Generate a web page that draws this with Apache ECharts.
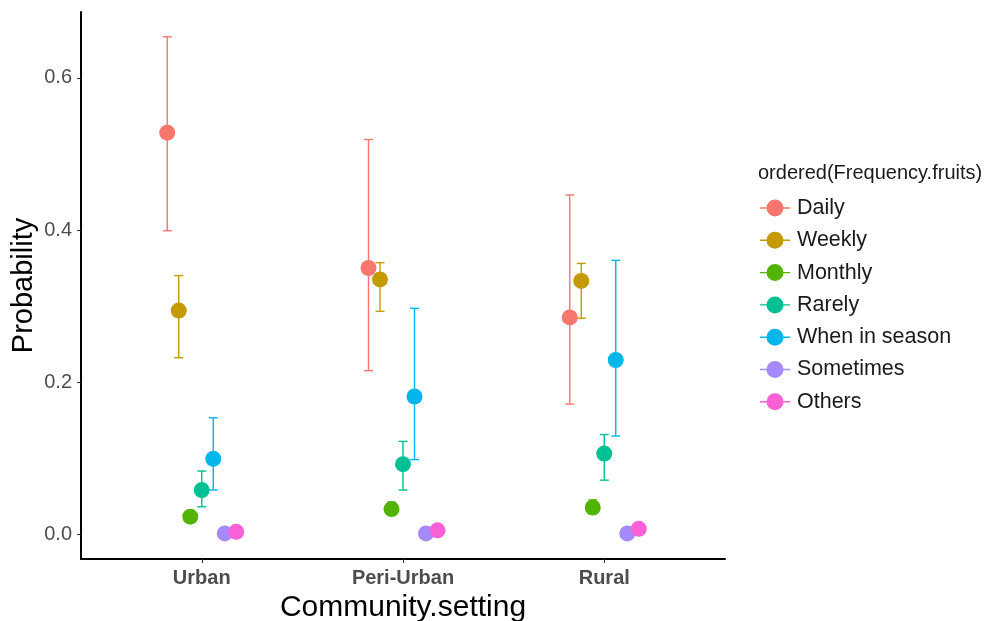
<!DOCTYPE html>
<html>
<head>
<meta charset="utf-8">
<script src="https://cdn.jsdelivr.net/npm/echarts@6/dist/echarts.min.js"></script>
<style>
  html, body { margin: 0; padding: 0; background: #fff; }
  #chart { width: 987px; height: 621px; }
</style>
</head>
<body>
<div id="chart"></div>
<script>
var categories = ['Urban', 'Peri-Urban', 'Rural'];
var levels = ['Daily', 'Weekly', 'Monthly', 'Rarely', 'When in season', 'Sometimes', 'Others'];
var yTicks = [0, 0.2, 0.4, 0.6];

// estimated probabilities, one array per community setting (order = levels)
var urbanProb = [0.528, 0.294, 0.023, 0.058, 0.099, 0.001, 0.003];
var urbanLow  = [0.399, 0.232, 0.017, 0.036, 0.058, 0.000, 0.000];
var urbanHigh = [0.654, 0.340, 0.030, 0.083, 0.153, 0.002, 0.006];

var periProb = [0.350, 0.335, 0.033, 0.092, 0.181, 0.001, 0.005];
var periLow  = [0.215, 0.293, 0.025, 0.058, 0.098, 0.000, 0.001];
var periHigh = [0.519, 0.357, 0.042, 0.122, 0.297, 0.003, 0.009];

var ruralProb = [0.285, 0.333, 0.035, 0.106, 0.229, 0.001, 0.007];
var ruralLow  = [0.171, 0.284, 0.027, 0.071, 0.129, 0.000, 0.002];
var ruralHigh = [0.446, 0.356, 0.045, 0.131, 0.360, 0.003, 0.012];

var probs = [urbanProb, periProb, ruralProb];
var lows = [urbanLow, periLow, ruralLow];
var highs = [urbanHigh, periHigh, ruralHigh];

var colors = ['#F8766D', '#C49A00', '#53B400', '#00C094', '#00B6EB', '#A58AFF', '#FB61D7'];
var font = 'Liberation Sans, Arial, sans-serif';
var dodge = 0.4 / levels.length;
var keyIcon = 'path://M0,8 L30,8 L30,9.4 L0,9.4 Z M23.5,8.7 A8.5,8.5,0,1,1,6.5,8.7 A8.5,8.5,0,1,1,23.5,8.7 Z';

var chart = echarts.init(document.getElementById('chart'));

function errorBar(params, api) {
    var lo = api.coord([api.value(0), api.value(1)]);
    var hi = api.coord([api.value(0), api.value(2)]);
    var hw = 4.5;
    var style = { stroke: api.visual('color'), lineWidth: 1.4 };
    return {
        type: 'group',
        children: [
            { type: 'line', shape: { x1: lo[0], y1: lo[1], x2: hi[0], y2: hi[1] }, style: style },
            { type: 'line', shape: { x1: lo[0] - hw, y1: lo[1], x2: lo[0] + hw, y2: lo[1] }, style: style },
            { type: 'line', shape: { x1: hi[0] - hw, y1: hi[1], x2: hi[0] + hw, y2: hi[1] }, style: style }
        ]
    };
}

var series = [];
levels.forEach(function (name, i) {
    var off = (i - (levels.length - 1) / 2) * dodge;
    series.push({
        name: name,
        type: 'custom',
        renderItem: errorBar,
        itemStyle: { color: colors[i] },
        z: 2,
        data: categories.map(function (c, k) { return [k + 1 + off, lows[k][i], highs[k][i]]; })
    });
    series.push({
        name: name,
        type: 'scatter',
        symbolSize: 16,
        itemStyle: { color: colors[i], opacity: 1 },
        z: 3,
        data: categories.map(function (c, k) { return [k + 1 + off, probs[k][i]]; })
    });
});

var option = {
    color: colors,
    animation: false,
    grid: { left: 81, right: 262, top: 12, bottom: 62, containLabel: false, outerBoundsMode: 'none' },
    title: {
        text: 'ordered(Frequency.fruits)',
        left: 753,
        top: 158,
        textStyle: { fontFamily: font, fontSize: 20, fontWeight: 'normal', color: '#1a1a1a' }
    },
    legend: {
        orient: 'vertical',
        left: 755,
        top: 192,
        itemWidth: 30,
        itemHeight: 17,
        itemGap: 10.3,
        data: levels.map(function (n) { return { name: n, icon: keyIcon }; }),
        textStyle: { fontFamily: font, fontSize: 21.5, color: '#1a1a1a', lineHeight: 21.5, padding: [0, 0, 0, 2] }
    },
    xAxis: {
        type: 'value',
        min: 0.4,
        max: 3.6,
        name: 'Community.setting',
        nameLocation: 'middle',
        nameGap: 34,
        nameTextStyle: { fontFamily: font, fontSize: 30, color: '#000' },
        axisLine: { onZero: false, lineStyle: { color: '#000', width: 2 } },
        axisTick: { customValues: [1, 2, 3], length: 4, lineStyle: { color: '#333' } },
        axisLabel: {
            customValues: [1, 2, 3],
            margin: 9,
            fontFamily: font,
            fontSize: 20,
            fontWeight: 'bold',
            color: '#4d4d4d',
            formatter: function (v) { return categories[Math.round(v) - 1]; }
        },
        splitLine: { show: false }
    },
    yAxis: {
        type: 'value',
        min: -0.0327,
        max: 0.6867,
        name: 'Probability',
        nameLocation: 'middle',
        nameRotate: 90,
        nameGap: 43,
        nameMoveOverlap: false,
        nameTextStyle: { fontFamily: font, fontSize: 29, color: '#000' },
        axisLine: { show: true, onZero: false, lineStyle: { color: '#000', width: 2 } },
        axisTick: { show: true, customValues: yTicks, length: 4, lineStyle: { color: '#333' } },
        axisLabel: {
            customValues: yTicks,
            margin: 9,
            fontFamily: font,
            fontSize: 20,
            color: '#4d4d4d',
            formatter: function (v) { return v.toFixed(1); }
        },
        splitLine: { show: false }
    },
    series: series
};

chart.setOption(option);
</script>
</body>
</html>
